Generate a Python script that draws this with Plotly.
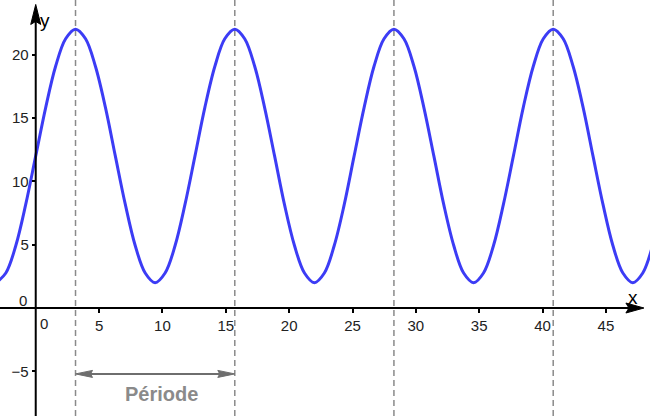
import plotly.graph_objects as go

# curve samples (every sixteenth of a period)
x_vals = [-3.14, -2.36, -1.57, -0.79, 0.0, 0.79, 1.57, 2.36, 3.14, 3.93,
          4.71, 5.5, 6.28, 7.07, 7.85, 8.64, 9.42, 10.21, 11.0, 11.78,
          12.57, 13.35, 14.14, 14.92, 15.71, 16.49, 17.28, 18.06, 18.85, 19.63,
          20.42, 21.21, 21.99, 22.78, 23.56, 24.35, 25.13, 25.92, 26.7, 27.49,
          28.27, 29.06, 29.85, 30.63, 31.42, 32.2, 32.99, 33.77, 34.56, 35.34,
          36.13, 36.91, 37.7, 38.48, 39.27, 40.06, 40.84, 41.63, 42.41, 43.2,
          43.98, 44.77, 45.55, 46.34, 47.12, 47.91, 48.69, 49.48, 50.27]
y_vals = [2, 2.76, 4.93, 8.17, 12, 15.83, 19.07, 21.24, 22, 21.24,
          19.07, 15.83, 12, 8.17, 4.93, 2.76, 2, 2.76, 4.93, 8.17,
          12, 15.83, 19.07, 21.24, 22, 21.24, 19.07, 15.83, 12, 8.17,
          4.93, 2.76, 2, 2.76, 4.93, 8.17, 12, 15.83, 19.07, 21.24,
          22, 21.24, 19.07, 15.83, 12, 8.17, 4.93, 2.76, 2, 2.76,
          4.93, 8.17, 12, 15.83, 19.07, 21.24, 22, 21.24, 19.07, 15.83,
          12, 8.17, 4.93, 2.76, 2, 2.76, 4.93, 8.17, 12]

peak_x = [3.14, 15.71, 28.27, 40.84]
period_start, period_end = 3.14, 15.71

x_ticks = [5, 10, 15, 20, 25, 30, 35, 40, 45]
y_ticks = [-5, 5, 10, 15, 20]

X_RANGE = [-2.82, 48.48]
Y_RANGE = [-8.52, 24.3]
X_TIP, Y_TIP = 48.0, 23.95

GRAY = "#8a8a8a"
ARROW_GRAY = "#6e6e6e"
FONT = "Liberation Sans, Arial, sans-serif"

fig = go.Figure()
fig.add_trace(go.Scatter(
    x=x_vals, y=y_vals, mode="lines",
    line=dict(color="#3c3cf5", width=3, shape="spline", smoothing=1),
    hoverinfo="skip", showlegend=False,
))

shapes = []
for px_ in peak_x:
    shapes.append(dict(type="line", xref="x", yref="paper", x0=px_, x1=px_, y0=0, y1=1,
                       line=dict(color=GRAY, width=1.5, dash="6px,4px"), layer="below"))

# axes lines
shapes.append(dict(type="line", xref="x", yref="y", x0=X_RANGE[0], x1=X_TIP - 0.8, y0=0, y1=0,
                   line=dict(color="black", width=2)))
shapes.append(dict(type="line", xref="x", yref="y", x0=0, x1=0, y0=Y_RANGE[0], y1=Y_TIP - 0.8,
                   line=dict(color="black", width=2)))
# arrowheads (pixel sized)
shapes.append(dict(type="path", xref="x", yref="y", xsizemode="pixel", ysizemode="pixel",
                   xanchor=X_TIP, yanchor=0, path="M0,0 L-18,5 L-15,0 L-18,-5 Z",
                   fillcolor="black", line=dict(color="black", width=1)))
shapes.append(dict(type="path", xref="x", yref="y", xsizemode="pixel", ysizemode="pixel",
                   xanchor=0, yanchor=Y_TIP, path="M0,0 L5,-20 L0,-17 L-5,-20 Z",
                   fillcolor="black", line=dict(color="black", width=1)))

# period arrow
arrow_y = -5.2
shapes.append(dict(type="line", xref="x", yref="y", x0=period_start + 0.6, x1=period_end - 0.6,
                   y0=arrow_y, y1=arrow_y, line=dict(color=ARROW_GRAY, width=2)))
shapes.append(dict(type="path", xref="x", yref="y", xsizemode="pixel", ysizemode="pixel",
                   xanchor=period_start, yanchor=arrow_y, path="M0,0 L17,3.5 L15,0 L17,-3.5 Z",
                   fillcolor=ARROW_GRAY, line=dict(color=ARROW_GRAY, width=1)))
shapes.append(dict(type="path", xref="x", yref="y", xsizemode="pixel", ysizemode="pixel",
                   xanchor=period_end, yanchor=arrow_y, path="M0,0 L-17,3.5 L-15,0 L-17,-3.5 Z",
                   fillcolor=ARROW_GRAY, line=dict(color=ARROW_GRAY, width=1)))

annotations = [
    dict(x=47.15, y=0.8, text="x", showarrow=False, font=dict(size=19, color="black", family=FONT)),
    dict(x=0.75, y=22.7, text="y", showarrow=False, font=dict(size=19, color="black", family=FONT)),
    dict(x=0, y=0, text="0", showarrow=False, xshift=8, yshift=-15,
         font=dict(size=15, color="#222", family=FONT)),
    dict(x=0, y=0, text="0", showarrow=False, xshift=-13, yshift=8,
         font=dict(size=15, color="#222", family=FONT)),
    dict(x=9.9, y=-6.8, text="<b>Période</b>", showarrow=False,
         font=dict(size=20, color=GRAY, family=FONT)),
]

fig.update_layout(
    width=650, height=416,
    margin=dict(l=0, r=0, t=0, b=0, autoexpand=False),
    paper_bgcolor="white", plot_bgcolor="white",
    shapes=shapes, annotations=annotations,
    xaxis=dict(range=X_RANGE, showgrid=False, zeroline=False, showline=False, automargin=False,
               anchor="free", position=(0 - Y_RANGE[0]) / (Y_RANGE[1] - Y_RANGE[0]),
               tickvals=x_ticks, ticks="outside", ticklen=4, tickwidth=2, tickcolor="black",
               tickfont=dict(size=15, color="#222", family=FONT)),
    yaxis=dict(range=Y_RANGE, showgrid=False, zeroline=False, showline=False, automargin=False,
               anchor="free", position=(0 - X_RANGE[0]) / (X_RANGE[1] - X_RANGE[0]),
               tickvals=y_ticks, ticks="outside", ticklen=4, tickwidth=2, tickcolor="black",
               tickfont=dict(size=15, color="#222", family=FONT)),
    showlegend=False,
)

# page body has a default 8px margin; drop it so the figure sits at the window origin
fig.write_html("out.html", config={"displayModeBar": False},
               post_script="document.body.style.margin='0';")
